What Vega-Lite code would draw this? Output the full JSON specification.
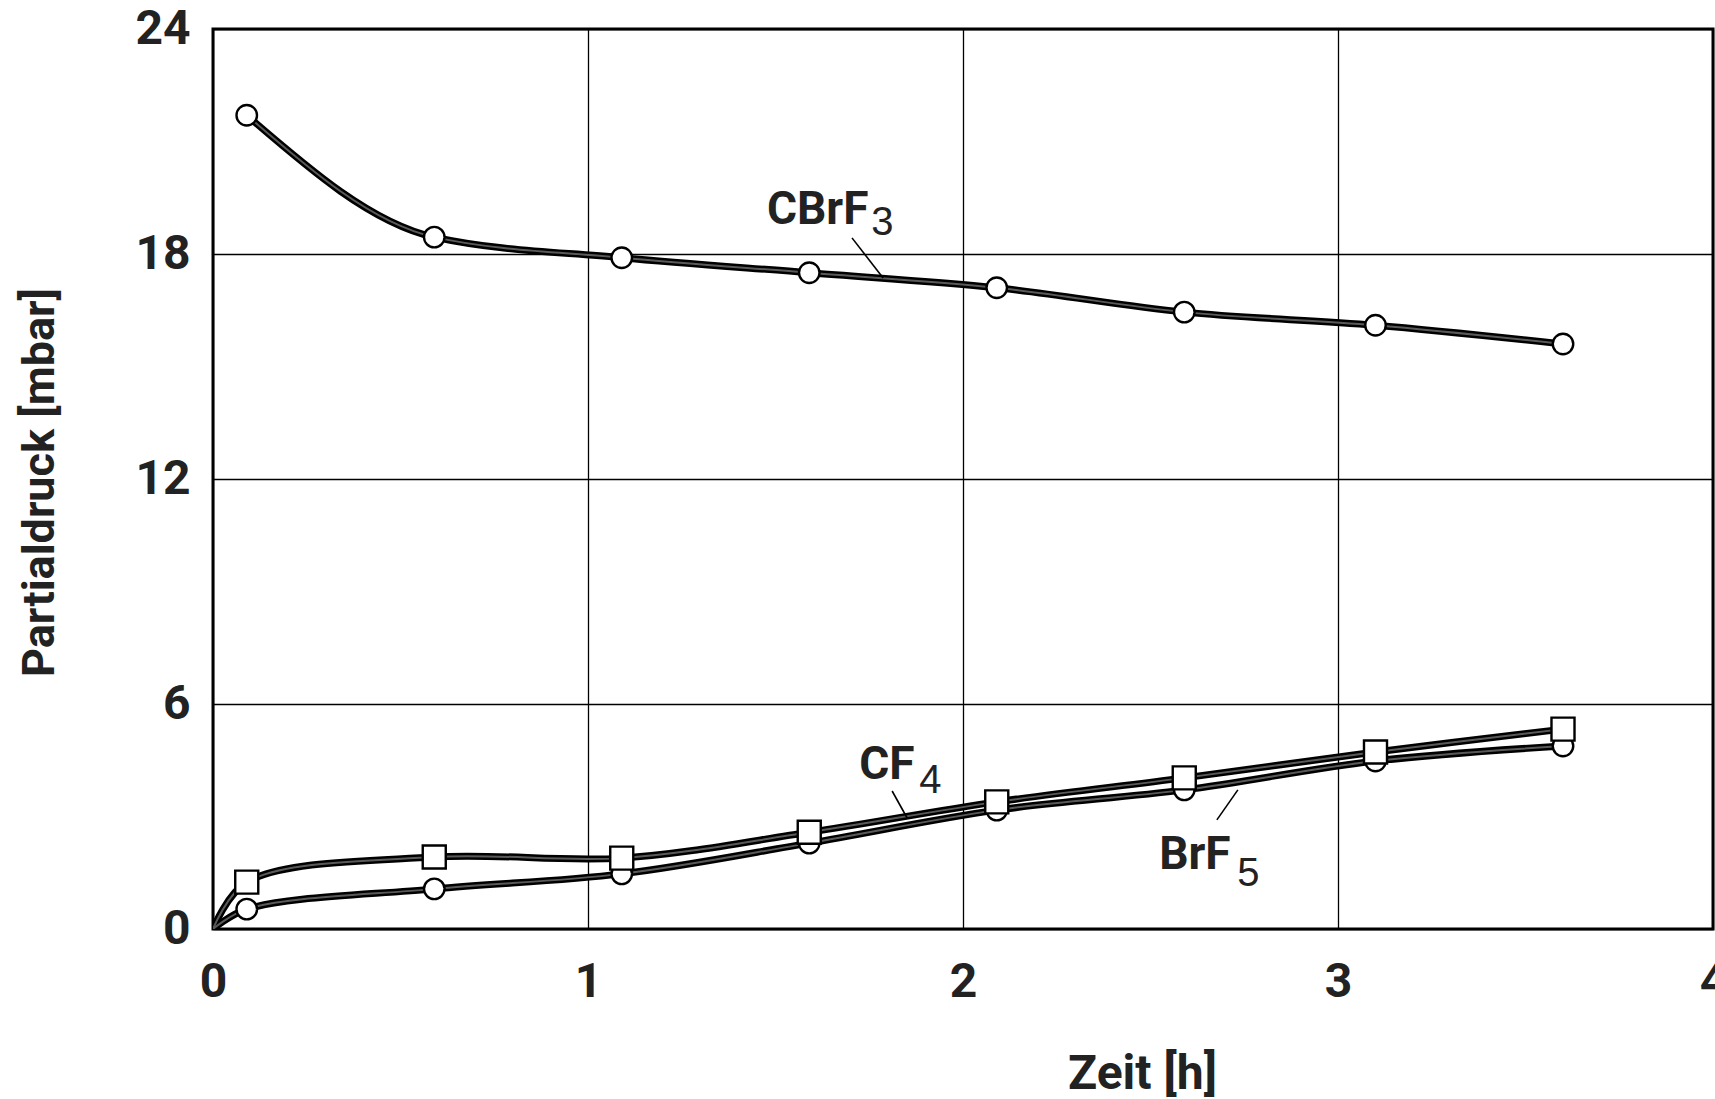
{
  "$schema": "https://vega.github.io/schema/vega-lite/v6.json",
  "width": 1500,
  "height": 900,
  "autosize": {"type": "none"},
  "padding": {"left": 213, "top": 29, "right": 2, "bottom": 170},
  "background": "white",
  "config": {
    "view": {"stroke": "black", "strokeWidth": 3},
    "font": "Roboto"
  },
  "datasets": {
    "curves": [
      {"series": "CBrF3", "t": 0.09, "p": 21.7},
      {"series": "CBrF3", "t": 0.59, "p": 18.45},
      {"series": "CBrF3", "t": 1.09, "p": 17.9},
      {"series": "CBrF3", "t": 1.59, "p": 17.5},
      {"series": "CBrF3", "t": 2.09, "p": 17.1},
      {"series": "CBrF3", "t": 2.59, "p": 16.45},
      {"series": "CBrF3", "t": 3.1, "p": 16.1},
      {"series": "CBrF3", "t": 3.6, "p": 15.6},
      {"series": "CF4", "t": 0, "p": 0},
      {"series": "CF4", "t": 0.09, "p": 1.25},
      {"series": "CF4", "t": 0.59, "p": 1.92},
      {"series": "CF4", "t": 1.09, "p": 1.89},
      {"series": "CF4", "t": 1.59, "p": 2.58},
      {"series": "CF4", "t": 2.09, "p": 3.39},
      {"series": "CF4", "t": 2.59, "p": 4.03},
      {"series": "CF4", "t": 3.1, "p": 4.72},
      {"series": "CF4", "t": 3.6, "p": 5.33},
      {"series": "BrF5", "t": 0, "p": 0},
      {"series": "BrF5", "t": 0.09, "p": 0.53},
      {"series": "BrF5", "t": 0.59, "p": 1.07},
      {"series": "BrF5", "t": 1.09, "p": 1.47},
      {"series": "BrF5", "t": 1.59, "p": 2.29},
      {"series": "BrF5", "t": 2.09, "p": 3.17},
      {"series": "BrF5", "t": 2.59, "p": 3.71},
      {"series": "BrF5", "t": 3.1, "p": 4.48},
      {"series": "BrF5", "t": 3.6, "p": 4.88}
    ],
    "labels": [
      {"text": "CBrF", "kind": "main", "t": 1.477, "p": 18.8},
      {"text": "3", "kind": "sub", "t": 1.755, "p": 18.51},
      {"text": "CF", "kind": "main", "t": 1.723, "p": 4.0},
      {"text": "4", "kind": "sub", "t": 1.883, "p": 3.63},
      {"text": "BrF", "kind": "main", "t": 2.523, "p": 1.6},
      {"text": "5", "kind": "sub", "t": 2.731, "p": 1.147}
    ],
    "leaders": [
      {"t": 1.704, "p": 18.43, "t2": 1.787, "p2": 17.36},
      {"t": 1.811, "p": 3.68, "t2": 1.851, "p2": 2.96},
      {"t": 2.677, "p": 2.91, "t2": 2.733, "p2": 3.71}
    ]
  },
  "encoding": {
    "x": {
      "field": "t",
      "type": "quantitative",
      "scale": {"domain": [0, 4], "nice": false, "zero": false},
      "axis": {
        "values": [0, 1, 2, 3, 4],
        "title": "Zeit [h]",
        "titleFont": "Roboto",
        "titleFontSize": 48,
        "titleFontWeight": "bold",
        "titleColor": "#222",
        "titleX": 929,
        "titleY": 159,
        "titleBaseline": "alphabetic",
        "labelFont": "Roboto",
        "labelFontSize": 48,
        "labelFontWeight": "bold",
        "labelColor": "#222",
        "labelPadding": 29,
        "labelFlush": false,
        "labelOverlap": false,
        "labelBound": false,
        "domain": false,
        "ticks": false,
        "grid": true,
        "gridColor": "black",
        "gridWidth": 1.3,
        "gridOpacity": 1
      }
    },
    "y": {
      "field": "p",
      "type": "quantitative",
      "scale": {"domain": [0, 24], "nice": false},
      "axis": {
        "values": [0, 6, 12, 18, 24],
        "title": "Partialdruck [mbar]",
        "titleFont": "Roboto",
        "titleFontSize": 45,
        "titleFontWeight": "bold",
        "titleColor": "#222",
        "titleX": -160,
        "titleY": 453,
        "titleAngle": -90,
        "titleBaseline": "alphabetic",
        "labelFont": "Roboto",
        "labelFontSize": 48,
        "labelFontWeight": "bold",
        "labelColor": "#222",
        "labelPadding": 23,
        "labelFlush": false,
        "labelOverlap": false,
        "domain": false,
        "ticks": false,
        "grid": true,
        "gridColor": "black",
        "gridWidth": 1.3,
        "gridOpacity": 1
      }
    }
  },
  "layer": [
    {
      "data": {"name": "curves"},
      "transform": [{"filter": "datum.series == 'CBrF3'"}],
      "mark": {"type": "line", "color": "black", "strokeWidth": 7, "interpolate": "monotone", "clip": true},
      "encoding": {"detail": {"field": "series"}}
    },
    {
      "data": {"name": "curves"},
      "transform": [{"filter": "datum.series == 'CBrF3'"}],
      "mark": {"type": "line", "color": "#5a5a5a", "strokeWidth": 2, "interpolate": "monotone", "clip": true},
      "encoding": {"detail": {"field": "series"}}
    },
    {
      "data": {"name": "curves"},
      "transform": [{"filter": "datum.series != 'CBrF3'"}],
      "mark": {"type": "line", "color": "black", "strokeWidth": 7, "interpolate": "catmull-rom", "clip": true},
      "encoding": {"detail": {"field": "series"}}
    },
    {
      "data": {"name": "curves"},
      "transform": [{"filter": "datum.series != 'CBrF3'"}],
      "mark": {"type": "line", "color": "#5a5a5a", "strokeWidth": 2, "interpolate": "catmull-rom", "clip": true},
      "encoding": {"detail": {"field": "series"}}
    },
    {
      "data": {"name": "curves"},
      "transform": [{"filter": "datum.series != 'CF4' && datum.t > 0"}],
      "mark": {"type": "point", "shape": "circle", "filled": true, "fill": "white", "stroke": "black", "strokeWidth": 2.4, "size": 420, "opacity": 1}
    },
    {
      "data": {"name": "curves"},
      "transform": [{"filter": "datum.series == 'CF4' && datum.t > 0"}],
      "mark": {"type": "point", "shape": "square", "filled": true, "fill": "white", "stroke": "black", "strokeWidth": 2.4, "size": 530, "opacity": 1}
    },
    {
      "data": {"name": "leaders"},
      "mark": {"type": "rule", "color": "black", "strokeWidth": 1.6},
      "encoding": {
        "x2": {"field": "t2"},
        "y2": {"field": "p2"}
      }
    },
    {
      "data": {"name": "labels"},
      "transform": [{"filter": "datum.kind == 'main'"}],
      "mark": {"type": "text", "align": "left", "baseline": "alphabetic", "font": "Roboto", "fontSize": 46, "fontWeight": "bold", "color": "#222"},
      "encoding": {"text": {"field": "text"}}
    },
    {
      "data": {"name": "labels"},
      "transform": [{"filter": "datum.kind == 'sub'"}],
      "mark": {"type": "text", "align": "left", "baseline": "alphabetic", "font": "Liberation Sans", "fontSize": 40, "fontWeight": "normal", "color": "#222"},
      "encoding": {"text": {"field": "text"}}
    }
  ]
}
